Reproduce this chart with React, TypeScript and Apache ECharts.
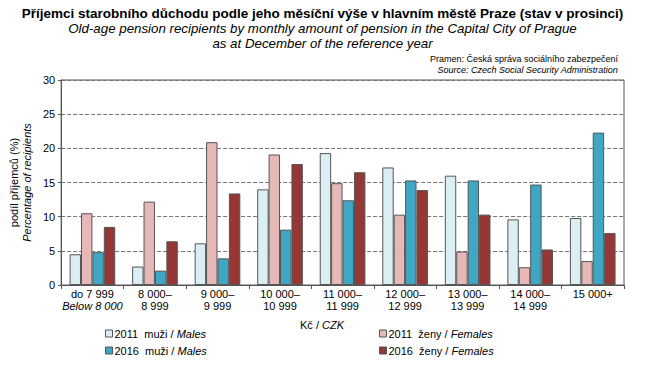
import React, { useEffect, useRef } from "react";
import * as echarts from "echarts";

const catLine1 = ["do 7 999", "8 000–", "9 000–", "10 000–", "11 000–", "12 000–", "13 000–", "14 000–", "15 000+"];
const catLine2 = ["Below 8 000", "8 999", "9 999", "10 999", "11 999", "12 999", "13 999", "14 999", ""];
const categories = catLine1.map((c, i) => c + "|" + catLine2[i]);

const males2011 = [4.5, 2.7, 6.1, 14.0, 19.3, 17.2, 16.0, 9.6, 9.8];
const females2011 = [10.5, 12.2, 20.9, 19.1, 14.9, 10.3, 4.9, 2.6, 3.5];
const males2016 = [4.8, 2.1, 3.9, 8.1, 12.4, 15.3, 15.3, 14.7, 22.3];
const females2016 = [8.5, 6.4, 13.4, 17.7, 16.5, 13.9, 10.3, 5.2, 7.6];

const seriesNames = ["2011 M", "2011 F", "2016 M", "2016 F"];
const seriesYears = ["2011", "2011", "2016", "2016"];
const seriesCz = ["muži", "ženy", "muži", "ženy"];
const seriesEn = ["Males", "Females", "Males", "Females"];
const colors = ["#DBEEF4", "#E6B8B7", "#3FA6C4", "#953735"];

const FONT = "Liberation Sans, Arial, sans-serif";

export default function App() {
  const ref = useRef<HTMLDivElement>(null);
  useEffect(() => {
    const chart = echarts.init(ref.current!, null, { renderer: "svg" });
    const data = [males2011, females2011, males2016, females2016];
    const legendPos = [
      { left: 105, top: 328 },
      { left: 379, top: 328 },
      { left: 105, top: 345 },
      { left: 379, top: 345 },
    ];
    chart.setOption({
      animation: false,
      textStyle: { fontFamily: FONT },
      graphic: [
        { type: "text", left: "center", top: 6, style: { text: "Příjemci starobního důchodu podle jeho měsíční výše v hlavním městě Praze (stav v prosinci)", font: "bold 13.5px " + FONT, fill: "#000" } },
        { type: "text", left: "center", top: 22, style: { text: "Old-age pension recipients by monthly amount of pension in the Capital City of Prague", font: "italic 13.3px " + FONT, fill: "#000" } },
        { type: "text", left: "center", top: 37, style: { text: "as at December of the reference year", font: "italic 13.3px " + FONT, fill: "#000" } },
        { type: "text", right: 27, top: 54, style: { text: "Pramen: Česká správa sociálního zabezpečení", font: "9px " + FONT, fill: "#000" } },
        { type: "text", right: 27, top: 65, style: { text: "Source: Czech Social Security Administration", font: "italic 9px " + FONT, fill: "#000" } },
        {
          type: "text",
          x: 322,
          y: 325,
          style: {
            text: "{a|Kč / }{b|CZK}",
            align: "center",
            verticalAlign: "middle",
            rich: {
              a: { fontFamily: FONT, fontSize: 11, fill: "#000" },
              b: { fontFamily: FONT, fontSize: 11, fill: "#000", fontStyle: "italic" },
            },
          },
        },
      ],
      legend: seriesNames.map((n, i) => ({
        left: legendPos[i].left,
        top: legendPos[i].top,
        padding: 0,
        data: [n],
        itemWidth: 7,
        itemHeight: 7,
        itemGap: 4,
        icon: "rect",
        selectedMode: false,
        formatter: () => `{a|${seriesYears[i]}  ${seriesCz[i]} / }{b|${seriesEn[i]}}`,
        textStyle: {
          fontFamily: FONT,
          fontSize: 11,
          color: "#000",
          padding: [0, 0, 0, -3],
          rich: {
            a: { fontFamily: FONT, fontSize: 11, color: "#000" },
            b: { fontFamily: FONT, fontSize: 11, color: "#000", fontStyle: "italic" },
          },
        },
        itemStyle: { borderColor: "#555", borderWidth: 1 },
      })),
      grid: { left: 58, right: 21, top: 80, bottom: 91, show: true, borderColor: "#555", borderWidth: 1 },
      xAxis: {
        type: "category",
        data: categories,
        axisLine: { lineStyle: { color: "#555" } },
        axisTick: { show: true, length: 4, lineStyle: { color: "#555" } },
        axisLabel: {
          interval: 0,
          color: "#000",
          fontSize: 11,
          margin: 3,
          lineHeight: 12,
          formatter: (v: string) => {
            const [a, b] = v.split("|");
            if (v.startsWith("do")) return `${a}\n{i|${b}}`;
            return b ? `${a}\n${b}` : a;
          },
          rich: { i: { fontStyle: "italic", fontSize: 11, color: "#000", fontFamily: FONT, lineHeight: 12 } },
        },
      },
      yAxis: {
        type: "value",
        min: 0,
        max: 30,
        interval: 5,
        name: "{a|podíl příjemců (%)}\n{b|Percentage of recipients}",
        nameLocation: "middle",
        nameGap: 27,
        nameTextStyle: {
          rich: {
            a: { fontFamily: FONT, fontSize: 11, color: "#000", lineHeight: 13 },
            b: { fontFamily: FONT, fontSize: 11, color: "#000", fontStyle: "italic", lineHeight: 13 },
          },
        },
        axisLine: { show: true, lineStyle: { color: "#555" } },
        axisTick: { show: true, length: 3, lineStyle: { color: "#555" } },
        axisLabel: { color: "#000", fontSize: 11, margin: 6 },
        splitLine: { lineStyle: { color: "#777", type: [4, 2] } },
      },
      series: seriesNames.map((n, i) => ({
        name: n,
        type: "bar",
        data: data[i],
        barGap: "0%",
        barCategoryGap: "27%",
        itemStyle: { color: colors[i], borderColor: "#555", borderWidth: 1 },
      })),
    });
    return () => chart.dispose();
  }, []);
  return <div ref={ref} style={{ width: 645, height: 376, margin: -8 }} />;
}
